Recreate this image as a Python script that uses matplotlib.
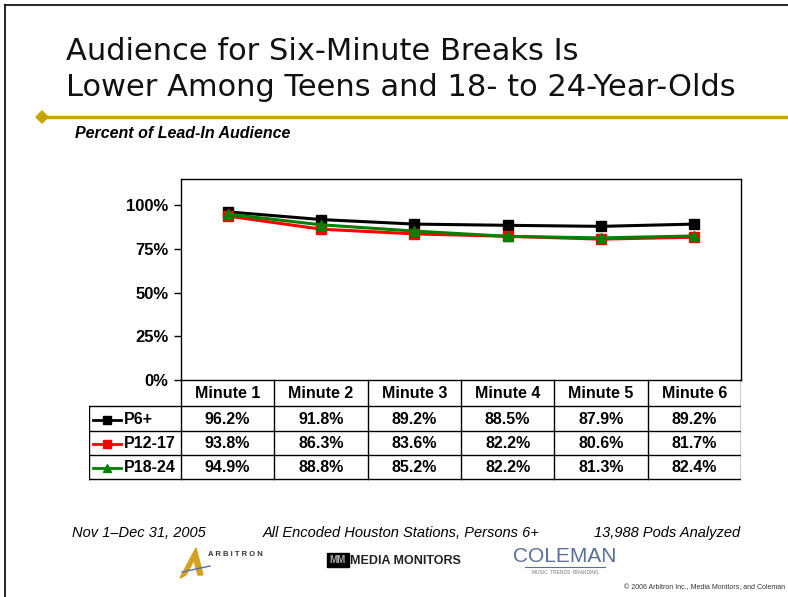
import numpy as np
import matplotlib
matplotlib.use("Agg")
import matplotlib.pyplot as plt
from matplotlib.patches import Polygon, Rectangle

plt.rcParams['font.family'] = ['Liberation Sans', 'DejaVu Sans']

# data
minutes = ["Minute 1", "Minute 2", "Minute 3", "Minute 4", "Minute 5", "Minute 6"]
series_names = ["P6+", "P12-17", "P18-24"]
p6_plus = [96.2, 91.8, 89.2, 88.5, 87.9, 89.2]
p12_17 = [93.8, 86.3, 83.6, 82.2, 80.6, 81.7]
p18_24 = [94.9, 88.8, 85.2, 82.2, 81.3, 82.4]
y_ticks = [0, 25, 50, 75, 100]

series_vals = [p6_plus, p12_17, p18_24]
colors = ["black", "#FF0000", "#008000"]
markers = ["s", "s", "^"]

W, H = 788, 597
fig = plt.figure(figsize=(W / 100, H / 100), dpi=100)


def box(x0, y0, x1, y1):
    # pixel box (top-left origin) -> figure fraction rect
    return [x0 / W, 1 - y1 / H, (x1 - x0) / W, (y1 - y0) / H]


# background overlay for slide decorations
bg = fig.add_axes([0, 0, 1, 1])
bg.set_xlim(0, W)
bg.set_ylim(H, 0)
bg.axis("off")
bg.plot([5, 5], [5, H], color="black", lw=1.2)
bg.plot([5, W], [5, 5], color="black", lw=1.2)
bg.plot([42, W], [117, 117], color="#C8A400", lw=2.5)
bg.add_patch(Polygon([[36, 117], [42, 111], [48, 117], [42, 123]], closed=True, color="#C8A400"))

title_font = ["DejaVu Sans"]
bg.text(66, 52, "Audience for Six-Minute Breaks Is", fontsize=22, family=title_font,
        va="center", ha="left", color="#111111")
bg.text(66, 88, "Lower Among Teens and 18- to 24-Year-Olds", fontsize=22, family=title_font,
        va="center", ha="left", color="#111111")
bg.text(75, 133, "Percent of Lead-In Audience", fontsize=11.5, fontweight="bold", style="italic",
        va="center", ha="left")

# footer
bg.text(72, 533, "Nov 1\u2013Dec 31, 2005", fontsize=10.5, style="italic", va="center")
bg.text(263, 533, "All Encoded Houston Stations, Persons 6+", fontsize=10.5, style="italic", va="center")
bg.text(740, 533, "13,988 Pods Analyzed", fontsize=10.5, style="italic", va="center", ha="right")
bg.text(W - 3, 588, "\u00a9 2006 Arbitron Inc., Media Monitors, and Coleman", fontsize=5,
        va="center", ha="right", color="#333333")

# logo approximations
bg.add_patch(Polygon([[180, 578], [196, 548], [203, 575], [198, 575], [194, 560], [186, 575]],
                     closed=True, color="#D4A020"))
bg.plot([182, 210], [572, 566], color="#5070B0", lw=1)
bg.text(208, 554, "A R B I T R O N", fontsize=5.5, fontweight="bold", color="#333333", va="center")
bg.add_patch(Rectangle((327, 553), 22, 14, color="black"))
bg.text(338, 560, "MM", fontsize=7, color="#AAAAAA", fontweight="bold", va="center", ha="center")
bg.text(350, 561, "MEDIA MONITORS", fontsize=9, fontweight="bold", color="#222222", va="center")
bg.text(565, 556, "COLEMAN", fontsize=15, color="#5A6E9E", va="center", ha="center")
bg.plot([525, 605], [567, 567], color="#5A6E9E", lw=0.8)
bg.text(565, 573, "MUSIC  TRENDS  BRANDING", fontsize=3.5, color="#777777", va="center", ha="center")

# line chart
ax = fig.add_axes(box(181, 179, 741, 380))
x = np.arange(len(minutes))
for name, vals, c, m in zip(series_names, series_vals, colors, markers):
    ax.plot(x, vals, color=c, lw=2.2, marker=m, markersize=7.5, label=name, zorder=3)
ax.set_xlim(-0.5, len(minutes) - 0.5)
ax.set_ylim(0, 115)
ax.set_yticks(y_ticks)
ax.set_yticklabels([f"{t}%" for t in y_ticks], fontsize=12, fontweight="bold")
ax.set_xticks([])
ax.tick_params(axis="y", direction="out", length=5, width=1, pad=4)
for s in ax.spines.values():
    s.set_linewidth(1)

# data table under the chart
tx0, tx1 = 89, 741
cx0 = 181
col_w = (tx1 - cx0) / len(minutes)
rows_y = [380, 406, 431, 455, 479]
tab = fig.add_axes(box(tx0, 378, tx1, 482))
tab.set_xlim(tx0, tx1)
tab.set_ylim(482, 378)
tab.axis("off")
for k in range(len(minutes) + 1):
    xx = cx0 + k * col_w
    tab.plot([xx, xx], [rows_y[0], rows_y[-1]], color="black", lw=1)
tab.plot([tx0, tx0], [rows_y[1], rows_y[-1]], color="black", lw=1)
for yy in rows_y[1:]:
    tab.plot([tx0, tx1], [yy, yy], color="black", lw=1)
for k, lab in enumerate(minutes):
    tab.text(cx0 + (k + 0.5) * col_w, (rows_y[0] + rows_y[1]) / 2 + 1, lab, fontsize=11.5,
             fontweight="bold", ha="center", va="center")
for r, (name, vals, c, m) in enumerate(zip(series_names, series_vals, colors, markers)):
    yc = (rows_y[r + 1] + rows_y[r + 2]) / 2 + 1
    tab.plot([93, 121], [yc, yc], color=c, lw=2)
    tab.plot([107], [yc], color=c, marker=m, markersize=6)
    tab.text(124, yc, name, fontsize=11.5, fontweight="bold", ha="left", va="center")
    for k, v in enumerate(vals):
        tab.text(cx0 + (k + 0.5) * col_w, yc, f"{v:.1f}%", fontsize=11.5, fontweight="bold",
                 ha="center", va="center")

fig.savefig("out.png", dpi=100)
